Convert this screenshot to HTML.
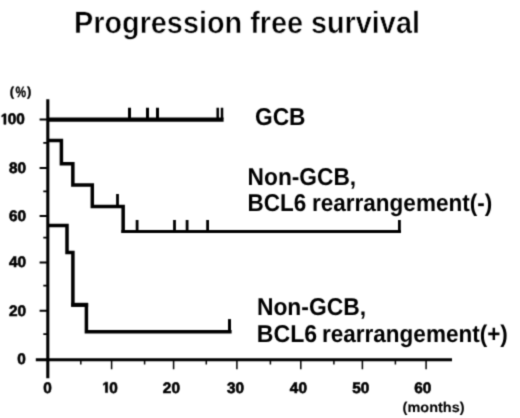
<!DOCTYPE html>
<html><head><meta charset="utf-8">
<style>
html,body{margin:0;padding:0;background:#fff;width:520px;height:418px;overflow:hidden;}
#w{will-change:transform;}
svg{display:block;}
text{font-family:"Liberation Sans",sans-serif;font-weight:bold;fill:#000;text-rendering:geometricPrecision;}
</style></head><body><div id="w">
<svg width="520" height="418" viewBox="0 0 520 418">
<defs><filter id="bl" x="0" y="0" width="520" height="418" filterUnits="userSpaceOnUse" color-interpolation-filters="sRGB"><feConvolveMatrix order="3" kernelMatrix="1 4 1 4 16 4 1 4 1" divisor="36" edgeMode="duplicate"/></filter></defs>
<g filter="url(#bl)">
<rect width="520" height="418" fill="#fff"/>
<text transform="translate(0 0.000)" x="74.00" y="33" font-size="30.8" textLength="345.93" lengthAdjust="spacingAndGlyphs" stroke="#fff" stroke-width="0.5">Progression free survival</text>
<g stroke="#000" stroke-width="0.3">
<text x="9.8" y="95.8" font-size="13">(</text>
<text x="15.6" y="96.8" font-size="15" textLength="10.6" lengthAdjust="spacingAndGlyphs">%</text>
<text x="26.9" y="95.8" font-size="13">)</text>
</g>
<g fill="#000" stroke="#000" stroke-width="0.6">
<path vector-effect="non-scaling-stroke" transform="translate(0.29 124.30) scale(0.00750 -0.00742)" d="M478 0L478 1150L200 980L200 1190L500 1409L759 1409L759 0Z"/>
<text x="7.72" y="124.30" font-size="15.2" textLength="8.54" lengthAdjust="spacingAndGlyphs">0</text>
<text x="16.26" y="124.30" font-size="15.2" textLength="8.54" lengthAdjust="spacingAndGlyphs">0</text>
<text x="8.92" y="172.70" font-size="15.2" textLength="8.54" lengthAdjust="spacingAndGlyphs">8</text>
<text x="17.46" y="172.70" font-size="15.2" textLength="8.54" lengthAdjust="spacingAndGlyphs">0</text>
<text x="8.92" y="220.60" font-size="15.2" textLength="8.54" lengthAdjust="spacingAndGlyphs">6</text>
<text x="17.46" y="220.60" font-size="15.2" textLength="8.54" lengthAdjust="spacingAndGlyphs">0</text>
<text x="8.92" y="266.80" font-size="15.2" textLength="8.54" lengthAdjust="spacingAndGlyphs">4</text>
<text x="17.46" y="266.80" font-size="15.2" textLength="8.54" lengthAdjust="spacingAndGlyphs">0</text>
<text x="8.92" y="315.70" font-size="15.2" textLength="8.54" lengthAdjust="spacingAndGlyphs">2</text>
<text x="17.46" y="315.70" font-size="15.2" textLength="8.54" lengthAdjust="spacingAndGlyphs">0</text>
<text x="17.36" y="363.50" font-size="15.2" textLength="8.54" lengthAdjust="spacingAndGlyphs">0</text>
<text x="43.33" y="392.60" font-size="15.2" textLength="8.54" lengthAdjust="spacingAndGlyphs">0</text>
<path vector-effect="non-scaling-stroke" transform="translate(101.86 392.60) scale(0.00750 -0.00742)" d="M478 0L478 1150L200 980L200 1190L500 1409L759 1409L759 0Z"/>
<text x="109.30" y="392.60" font-size="15.2" textLength="8.54" lengthAdjust="spacingAndGlyphs">0</text>
<text x="162.86" y="392.60" font-size="15.2" textLength="8.54" lengthAdjust="spacingAndGlyphs">2</text>
<text x="171.40" y="392.60" font-size="15.2" textLength="8.54" lengthAdjust="spacingAndGlyphs">0</text>
<text x="226.96" y="392.60" font-size="15.2" textLength="8.54" lengthAdjust="spacingAndGlyphs">3</text>
<text x="235.50" y="392.60" font-size="15.2" textLength="8.54" lengthAdjust="spacingAndGlyphs">0</text>
<text x="289.86" y="392.60" font-size="15.2" textLength="8.54" lengthAdjust="spacingAndGlyphs">4</text>
<text x="298.40" y="392.60" font-size="15.2" textLength="8.54" lengthAdjust="spacingAndGlyphs">0</text>
<text x="352.16" y="392.60" font-size="15.2" textLength="8.54" lengthAdjust="spacingAndGlyphs">5</text>
<text x="360.70" y="392.60" font-size="15.2" textLength="8.54" lengthAdjust="spacingAndGlyphs">0</text>
<text x="414.26" y="393.00" font-size="15.2" textLength="8.54" lengthAdjust="spacingAndGlyphs">6</text>
<text x="422.80" y="393.00" font-size="15.2" textLength="8.54" lengthAdjust="spacingAndGlyphs">0</text>
</g>
<text x="402.6" y="412.2" stroke="#000" stroke-width="0.1" font-size="14" textLength="62" lengthAdjust="spacingAndGlyphs">(months)</text>
<g stroke="#000" stroke-width="0">
<text transform="translate(0 0.000)" x="254.97" y="125" font-size="24.3" textLength="50.56" lengthAdjust="spacingAndGlyphs">GCB</text>
<text transform="translate(0 0.000)" x="247.60" y="185" font-size="24.3" textLength="108.60" lengthAdjust="spacingAndGlyphs">Non-GCB,</text>
<text transform="translate(0 0.000)" x="247.60" y="211" font-size="24.3" textLength="58.70" lengthAdjust="spacingAndGlyphs">BCL6</text>
<text transform="translate(0 0.000)" x="312.00" y="211" font-size="24.3" textLength="180.20" lengthAdjust="spacingAndGlyphs">rearrangement(-)</text>
<text transform="translate(0 0.000)" x="256.90" y="315" font-size="24.3" textLength="109.20" lengthAdjust="spacingAndGlyphs">Non-GCB,</text>
<text transform="translate(0 0.000)" x="256.86" y="342" font-size="24.3" textLength="60.30" lengthAdjust="spacingAndGlyphs">BCL6</text>
<text transform="translate(0 0.000)" x="321.97" y="342" font-size="24.3" textLength="185.90" lengthAdjust="spacingAndGlyphs">rearrangement(+)</text>
</g>
<g stroke="#000" fill="none" stroke-linecap="butt">
<path d="M47.8 99.3 V378.2" stroke-width="3.1"/>
<path d="M35.8 359.75 H452" stroke-width="3"/>
<path d="M39.6 119.6 H47 M39.6 167.9 H47 M39.6 216.0 H47 M39.6 262.5 H47 M39.6 310.8 H47" stroke-width="2"/>
<path d="M43.3 142.9 H47 M43.3 191.3 H47 M43.3 237.6 H47 M43.3 285.6 H47 M43.3 334.1 H47" stroke-width="1.8"/>
<path d="M111.6 361 V369.3 M173.6 361 V369.3 M236.9 361 V369.3 M300.8 361 V369.3 M362.4 361 V369.3 M426.1 361 V369.3" stroke-width="1.5"/>
<path d="M80.8 361 V364.6 M144.6 361 V364.6 M206.3 361 V364.6 M270.4 361 V364.6 M333.9 361 V364.6 M395.4 361 V364.6" stroke-width="1.5"/>
</g>
<g stroke="#000" fill="none" stroke-width="3.5" stroke-linejoin="miter" stroke-linecap="butt">
<path d="M47.8 119.55 H223.6" stroke-width="4.2"/>
<path d="M129.5 107.7 V119 M147.5 107.7 V119 M157.5 107.7 V119" stroke-width="3"/>
<path d="M217.7 107.7 V119 M222 107.7 V119" stroke-width="2.5"/>
<path d="M47.8 140.55 H61.4 V163.8 H72.85 V185.0 H92.3 V206.4 H123.15 V233.05"/>
<path d="M121.4 231.5 H401" stroke-width="3.1"/>
<path d="M117.5 194 V206 M137.1 220.1 V231 M174.5 220.1 V231 M187.1 220.1 V231 M207.6 220.1 V231 M399.4 220.1 V231" stroke-width="2.8"/>
<path d="M47.8 225.4 H67.0 V252.5 H72.9 V304.85 M71.15 304.85 H86.4 V331.8 H231.6"/>
<path d="M71.15 304.85 H88.15" stroke-width="4.1"/>
<path d="M229.5 319.1 V331.7" stroke-width="3"/>
</g>
</g>
</svg></div>
</body></html>
